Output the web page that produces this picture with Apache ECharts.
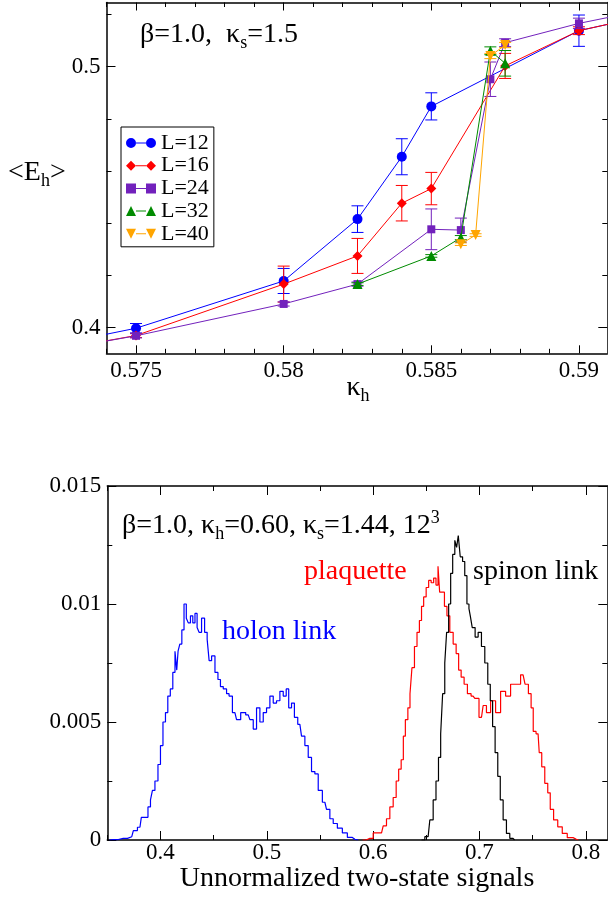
<!DOCTYPE html>
<html>
<head>
<meta charset="utf-8">
<script src="https://cdn.jsdelivr.net/npm/echarts@6/dist/echarts.min.js"></script>
<style>
html,body{margin:0;padding:0;background:#fff;}
#chart{width:608px;height:899px;}
</style>
</head>
<body>
<div id="chart"></div>
<script>
// ---------- Top panel data ----------
const kappa12 = [0.57, 0.575, 0.58, 0.5825, 0.584, 0.585, 0.59, 0.595];
const E12     = [0.3883, 0.3998, 0.4179, 0.4416, 0.4655, 0.4848, 0.5138, 0.5263];
const err12   = [0, 0.0018, 0.0048, 0.0051, 0.0069, 0.0052, 0.006, 0];

const kappa16 = [0.57, 0.575, 0.58, 0.5825, 0.584, 0.585, 0.5875, 0.59, 0.595];
const E16     = [0.3869, 0.3970, 0.4167, 0.4275, 0.4477, 0.4533, 0.5003, 0.5138, 0.5263];
const err16   = [0, 0.0008, 0.0069, 0.0067, 0.0068, 0.0062, 0.0048, 0.0015, 0];

const kappa24 = [0.57, 0.575, 0.58, 0.5825, 0.585, 0.586, 0.587, 0.5875, 0.59, 0.595];
const E24     = [0.3869, 0.3969, 0.4091, 0.4167, 0.4377, 0.4374, 0.4952, 0.5092, 0.5166, 0.5281];
const err24   = [0, 0.0008, 0.0008, 0.0008, 0.0078, 0.0046, 0.0066, 0.0015, 0.002, 0];

const kappa32 = [0.5825, 0.585, 0.586, 0.587, 0.5875];
const E32     = [0.4167, 0.4275, 0.4345, 0.5061, 0.5013];
const err32   = [0.0005, 0.0005, 0.0008, 0.0015, 0.0049];

const kappa40 = [0.586, 0.5865, 0.587, 0.5875];
const E40     = [0.4320, 0.4355, 0.5041, 0.5083];
const err40   = [0.0005, 0.0005, 0.001, 0.001];

const seriesNames = ['L=12', 'L=16', 'L=24', 'L=32', 'L=40'];

// tick labels, top panel
const topXMajor = [0.575, 0.58, 0.585, 0.59];
const topXMinor = [0.574, 0.576, 0.577, 0.578, 0.579, 0.581, 0.582, 0.583, 0.584, 0.586, 0.587, 0.588, 0.589];
const topYMajor = [0.4, 0.5];
const topYMinor = [0.42, 0.44, 0.46, 0.48, 0.52];

// ---------- Bottom panel data ----------
const holonX = [0.352,0.3557,0.365,0.373,0.376,0.3807,0.3833,0.387,0.3895,0.3917,0.3932,0.3964,0.3989,0.4011,0.4036,0.4058,0.408,0.4105,0.4127,0.4146,0.416,0.4171,0.4193,0.4209,0.4234,0.4252,0.4271,0.4293,0.4315,0.4334,0.4355,0.4371,0.4402,0.4428,0.445,0.4465,0.4497,0.4528,0.4553,0.4575,0.4606,0.4637,0.4653,0.47,0.4731,0.4778,0.4825,0.4857,0.4888,0.4919,0.4951,0.4982,0.5013,0.5045,0.5076,0.5107,0.5139,0.517,0.5195,0.5217,0.5248,0.5271,0.5311,0.5342,0.5374,0.5405,0.5436,0.5468,0.5499,0.5546,0.5577,0.5609,0.564,0.5687,0.5734,0.5781,0.5828,0.586];
const holonY = [0,0.00002,0.00007,0.00014,0.0004,0.00054,0.00096,0.00096,0.0014,0.0017,0.0021,0.0025,0.0032,0.0040,0.0050,0.0054,0.0061,0.0064,0.0071,0.0080,0.0072,0.0080,0.0083,0.0089,0.0100,0.0094,0.0092,0.0095,0.0092,0.0096,0.0090,0.0088,0.0094,0.0088,0.0085,0.0076,0.0078,0.0071,0.0068,0.0065,0.0064,0.0062,0.0061,0.0054,0.0051,0.0054,0.0053,0.0051,0.0047,0.0056,0.0050,0.0054,0.0056,0.0061,0.0058,0.0059,0.0063,0.0061,0.0064,0.0056,0.0058,0.0052,0.0049,0.0044,0.0040,0.0035,0.0029,0.0028,0.0021,0.0016,0.0013,0.0009,0.0007,0.0005,0.0003,0.00011,0.00003,0];

const plaqX = [0.59,0.5969,0.6032,0.6079,0.611,0.6141,0.6173,0.6204,0.6229,0.6251,0.6276,0.6292,0.6314,0.6339,0.6354,0.6376,0.6401,0.6424,0.6446,0.6464,0.6486,0.6511,0.6533,0.6558,0.658,0.6602,0.6618,0.6633,0.6658,0.6683,0.6705,0.6737,0.6768,0.6793,0.6815,0.684,0.6871,0.6902,0.694,0.6972,0.7019,0.705,0.7081,0.7128,0.7175,0.7222,0.7269,0.7316,0.7363,0.741,0.7447,0.7473,0.7498,0.7513,0.7551,0.7573,0.7598,0.763,0.7654,0.7677,0.7717,0.7755,0.7802,0.7849,0.7911,0.793];
const plaqY = [0,0.00007,0.0003,0.0003,0.0006,0.0009,0.0014,0.0018,0.0025,0.0030,0.0034,0.0044,0.0051,0.0056,0.0062,0.0073,0.0082,0.0088,0.0093,0.0099,0.0103,0.0107,0.0110,0.0109,0.0111,0.0108,0.0116,0.0105,0.0105,0.0099,0.0095,0.0088,0.0083,0.0079,0.0072,0.0069,0.0066,0.0062,0.0061,0.0060,0.0052,0.0057,0.0054,0.0059,0.0054,0.0063,0.0061,0.0066,0.0066,0.0070,0.0066,0.0062,0.0056,0.0046,0.0045,0.0037,0.0031,0.0024,0.0020,0.0013,0.00085,0.00056,0.00028,0.0001,0.00003,0];

const spinonX = [0.6455,0.6517,0.6549,0.658,0.6602,0.6627,0.6643,0.6664,0.6683,0.6699,0.6721,0.6737,0.6759,0.6777,0.6793,0.6808,0.683,0.6852,0.6871,0.6893,0.6909,0.6918,0.6946,0.6972,0.7003,0.7034,0.7066,0.709,0.7113,0.7134,0.716,0.7184,0.7207,0.7238,0.7269,0.7301,0.733];
const spinonY = [0,0.00014,0.00085,0.0017,0.0025,0.0035,0.0045,0.0062,0.0075,0.0088,0.0100,0.0113,0.0121,0.0127,0.0124,0.0129,0.0120,0.0118,0.0112,0.0100,0.0098,0.0095,0.0090,0.0086,0.0088,0.0082,0.0075,0.0066,0.0059,0.0048,0.0037,0.0027,0.0017,0.00085,0.00028,0.00007,0];

const botXMajor = [0.4, 0.5, 0.6, 0.7, 0.8];
const botXMinor = [0.35, 0.45, 0.55, 0.65, 0.75];
const botYMajor = [0, 0.005, 0.01, 0.015];
const botYMinor = [0.0025, 0.0075, 0.0125];

// ---------- styling ----------
const FONT = 'Liberation Serif';
const colors = ['#0000ff', '#ff0000', '#7221bc', '#008b00', '#ffa500'];
const symbols = ['circle', 'diamond', 'rect', 'triangle', 'path://M0,0 L10,0 L5,10 Z'];
const symSizes = [10, 10, 8, 10, 10];
const legendIcons = [
  'path://M0,5 A5,5 0 1,0 10,5 A5,5 0 1,0 0,5 Z M10,4.5 L20,4.5 L20,5.5 L10,5.5 Z M20,5 A5,5 0 1,0 30,5 A5,5 0 1,0 20,5 Z',
  'path://M5,0 L10,5 L5,10 L0,5 Z M10,4.5 L20,4.5 L20,5.5 L10,5.5 Z M25,0 L30,5 L25,10 L20,5 Z',
  'path://M0,0 L10,0 L10,10 L0,10 Z M10,4.5 L20,4.5 L20,5.5 L10,5.5 Z M20,0 L30,0 L30,10 L20,10 Z',
  'path://M0,10 L5,0 L10,10 Z M10,4.5 L20,4.5 L20,5.5 L10,5.5 Z M20,10 L25,0 L30,10 Z',
  'path://M0,0 L10,0 L5,10 Z M10,4.5 L20,4.5 L20,5.5 L10,5.5 Z M20,0 L30,0 L25,10 Z'
];
const kappas = [kappa12, kappa16, kappa24, kappa32, kappa40];
const Es = [E12, E16, E24, E32, E40];
const errs = [err12, err16, err24, err32, err40];

const fmt = v => String(+(+v).toFixed(4));
const lblStyle = {fontFamily: FONT, fontSize: 23, color: '#000'};
const lineBlack = {show: true, onZero: false, lineStyle: {color: '#000', width: 1.5}};

function mkX(grid, pos, ticks, len, labels, showLine, min, max, margin) {
  return {
    type: 'value', gridIndex: grid, position: pos, min: min, max: max,
    axisLine: showLine ? lineBlack : {show: false, onZero: false},
    axisTick: {show: true, inside: true, length: len, customValues: ticks, lineStyle: {color: '#000', width: 1}},
    axisLabel: labels ? Object.assign({show: true, customValues: ticks, formatter: fmt, margin: margin}, lblStyle) : {show: false},
    splitLine: {show: false}
  };
}
function mkY(grid, pos, ticks, len, labels, showLine, min, max) {
  return {
    type: 'value', gridIndex: grid, position: pos, min: min, max: max,
    axisLine: showLine ? lineBlack : {show: false, onZero: false},
    axisTick: {show: true, inside: true, length: len, customValues: ticks, lineStyle: {color: '#000', width: 1}},
    axisLabel: labels ? Object.assign({show: true, customValues: ticks, formatter: fmt, margin: 6}, lblStyle) : {show: false},
    splitLine: {show: false}
  };
}

const tX = [0.574, 0.59096], tY = [0.39019, 0.5246];
const bX = [0.35, 0.8202], bY = [0, 0.015];

const xAxes = [
  mkX(0, 'bottom', topXMajor, 8, true, true, tX[0], tX[1], 6),
  mkX(0, 'bottom', topXMinor, 4.5, false, false, tX[0], tX[1]),
  mkX(0, 'top', topXMajor, 8, false, true, tX[0], tX[1]),
  mkX(0, 'top', topXMinor, 4.5, false, false, tX[0], tX[1]),
  mkX(1, 'bottom', botXMajor, 9, true, true, bX[0], bX[1], 1),
  mkX(1, 'bottom', botXMinor, 5, false, false, bX[0], bX[1]),
  mkX(1, 'top', botXMajor, 9, false, true, bX[0], bX[1]),
  mkX(1, 'top', botXMinor, 5, false, false, bX[0], bX[1])
];
const yAxes = [
  mkY(0, 'left', topYMajor, 9, true, true, tY[0], tY[1]),
  mkY(0, 'left', topYMinor, 5, false, false, tY[0], tY[1]),
  mkY(0, 'right', topYMajor, 9, false, true, tY[0], tY[1]),
  mkY(0, 'right', topYMinor, 5, false, false, tY[0], tY[1]),
  mkY(1, 'left', botYMajor, 9, true, true, bY[0], bY[1]),
  mkY(1, 'left', botYMinor, 5, false, false, bY[0], bY[1]),
  mkY(1, 'right', botYMajor, 9, false, true, bY[0], bY[1]),
  mkY(1, 'right', botYMinor, 5, false, false, bY[0], bY[1])
];

const series = [];
// error bars
for (let i = 0; i < 5; i++) {
  const data = [];
  kappas[i].forEach((k, j) => { if (errs[i][j] > 0) data.push([k, Es[i][j] - errs[i][j], Es[i][j] + errs[i][j]]); });
  const col = colors[i];
  series.push({
    type: 'custom', name: 'err' + i, xAxisIndex: 0, yAxisIndex: 0, z: 2 + i * 2,
    encode: {x: 0, y: [1, 2]},
    clip: true,
    data: data,
    renderItem: function (params, api) {
      const x = api.value(0);
      const lo = api.coord([x, api.value(1)]);
      const hi = api.coord([x, api.value(2)]);
      const st = {stroke: col, lineWidth: 1};
      return {type: 'group', children: [
        {type: 'line', shape: {x1: lo[0], y1: lo[1], x2: hi[0], y2: hi[1]}, style: st},
        {type: 'line', shape: {x1: lo[0] - 6, y1: lo[1], x2: lo[0] + 6, y2: lo[1]}, style: st},
        {type: 'line', shape: {x1: hi[0] - 6, y1: hi[1], x2: hi[0] + 6, y2: hi[1]}, style: st}
      ]};
    }
  });
}
for (let i = 0; i < 5; i++) {
  series.push({
    type: 'line', name: seriesNames[i], xAxisIndex: 0, yAxisIndex: 0, z: 3 + i * 2,
    data: kappas[i].map((k, j) => [k, Es[i][j]]),
    symbol: symbols[i], symbolSize: symSizes[i], showSymbol: true,
    color: colors[i],
    itemStyle: {color: colors[i], borderWidth: 0},
    lineStyle: {color: colors[i], width: 1},
    emphasis: {disabled: true},
    animation: false, clip: true
  });
}
const hist = [[holonX, holonY, '#0000ff'], [plaqX, plaqY, '#ff0000'], [spinonX, spinonY, '#000000']];
hist.forEach((h, i) => {
  series.push({
    type: 'line', name: 'h' + i, xAxisIndex: 4, yAxisIndex: 4,
    data: h[0].map((x, j) => [x, h[1][j]]),
    step: 'middle', showSymbol: false, symbol: 'none',
    lineStyle: {color: h[2], width: 1.2}, color: h[2],
    emphasis: {disabled: true}, animation: false
  });
});

function txt(x, y, text, color, align, rich) {
  return {
    type: 'text', x: x, y: y, z: 100,
    style: {
      text: text, fill: color, align: align || 'left', verticalAlign: 'top',
      fontFamily: FONT, fontSize: 28, lineHeight: 34,
      rich: rich || {}
    }
  };
}
const R = {
  m: {fontFamily: FONT, fontSize: 28, lineHeight: 34},
  sub: {fontFamily: FONT, fontSize: 18, lineHeight: 12, verticalAlign: 'bottom'},
  sup: {fontFamily: FONT, fontSize: 18, lineHeight: 12, verticalAlign: 'top'}
};

const graphic = [
  txt(140, 18, '{m|β=1.0,  κ}{sub|s}{m|=1.5}', '#000', 'left', R),
  txt(8, 156, '{m|<E}{sub|h}{m|>}', '#000', 'left', R),
  txt(358, 371, '{m|κ}{sub|h}', '#000', 'center', R),
  txt(122, 509, '{m|β=1.0, κ}{sub|h}{m|=0.60, κ}{sub|s}{m|=1.44, 12}{sup|3}', '#000', 'left', R),
  txt(304, 555, 'plaquette', '#ff0000', 'left'),
  txt(473, 555, 'spinon link', '#000', 'left'),
  txt(222, 615, 'holon link', '#0000ff', 'left'),
  txt(357, 862, 'Unnormalized two-state signals', '#000', 'center')
];

const chart = echarts.init(document.getElementById('chart'), null, {renderer: 'canvas'});
chart.setOption({
  backgroundColor: '#fff',
  animation: false,
  grid: [
    {left: 106.5, top: 2.5, width: 500.8, height: 350.8, containLabel: false},
    {left: 107.3, top: 486, width: 500, height: 354, containLabel: false}
  ],
  xAxis: xAxes,
  yAxis: yAxes,
  legend: {
    show: true, orient: 'vertical', left: 121, top: 127,
    padding: [5, 5, 2, 5], itemGap: 0.7, itemWidth: 30, itemHeight: 10,
    borderColor: '#000', borderWidth: 1, backgroundColor: '#fff',
    selectedMode: false, symbolKeepAspect: true,
    textStyle: {fontFamily: FONT, fontSize: 22, color: '#000', lineHeight: 20},
    data: seriesNames.map((n, i) => ({name: n, icon: legendIcons[i], itemStyle: {color: colors[i], borderWidth: 0}}))
  },
  graphic: graphic,
  series: series
});
</script>
</body>
</html>
